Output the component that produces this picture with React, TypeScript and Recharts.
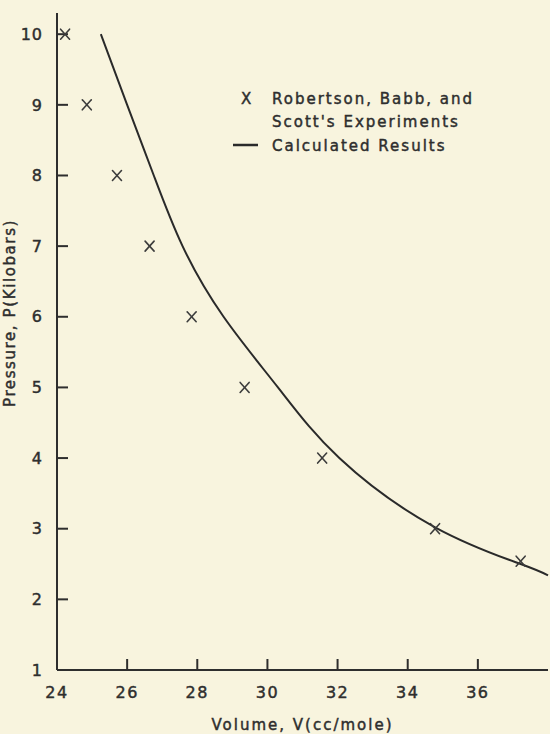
import React from 'react';
import { ComposedChart, Line, Scatter, XAxis, YAxis, Label } from 'recharts';

// Calculated results (solid curve)
const curveVolume = [25.25, 26.0, 26.76, 27.58, 28.75, 30.3, 32.05, 34.78, 37.22, 38.0];
const curvePressure = [10.0, 9.0, 8.0, 7.0, 6.0, 5.0, 4.0, 3.02, 2.5, 2.34];

// Robertson, Babb, and Scott's experiments (X markers)
const expVolume = [24.23, 24.85, 25.71, 26.64, 27.84, 29.35, 31.56, 34.78, 37.22];
const expPressure = [10, 9, 8, 7, 6, 5, 4, 3, 2.54];

const xTicks = [24, 26, 28, 30, 32, 34, 36];
const yTicks = [1, 2, 3, 4, 5, 6, 7, 8, 9, 10];

const legendLine1 = 'Robertson, Babb, and';
const legendLine2 = "Scott's Experiments";
const legendLine3 = 'Calculated Results';
const xTitle = 'Volume, V(cc/mole)';
const yTitle = 'Pressure, P(Kilobars)';

const curveData = curveVolume.map((v, i) => ({ v, p: curvePressure[i] }));
const expData = expVolume.map((v, i) => ({ v, p: expPressure[i] }));

const FONT = '"DejaVu Sans", sans-serif';
const INK = '#2e2e2e';
const BG = '#f8f4de';

const XMark = (props: any) => {
  const { cx, cy } = props;
  if (cx == null || cy == null) return null;
  return (
    <g stroke="#3c3c3c" strokeWidth={1.6} strokeLinecap="round">
      <line x1={cx - 4.5} y1={cy - 5} x2={cx + 4.5} y2={cy + 5} />
      <line x1={cx + 4.5} y1={cy - 5} x2={cx - 4.5} y2={cy + 5} />
    </g>
  );
};

const textStyle = {
  fontFamily: FONT,
  fontSize: 15,
  letterSpacing: 2,
  fill: INK,
  stroke: INK,
  strokeWidth: 0.45,
} as const;

const tickText = {
  fontFamily: FONT,
  fontSize: 16,
  fill: INK,
  stroke: INK,
  strokeWidth: 0.45,
} as const;

const YTick = (props: any) => {
  const { x, y, payload } = props;
  return (
    <text x={x} y={y} dy="0.355em" textAnchor="end" style={{ ...tickText, letterSpacing: 1 }}>
      {payload.value}
    </text>
  );
};

const XTick = (props: any) => {
  const { x, y, payload } = props;
  return (
    <text x={x} y={y} dy="0.71em" textAnchor="middle" style={{ ...tickText, letterSpacing: 1.5 }}>
      {payload.value}
    </text>
  );
};

export default function App() {
  return (
    <div style={{ position: 'absolute', left: 0, top: 0, width: 550, height: 734, background: BG }}>
      <svg
        width={550}
        height={734}
        style={{ position: 'absolute', left: 0, top: 0, pointerEvents: 'none' }}
      >
        <text x={241} y={104} style={{ ...textStyle }}>X</text>
        <text x={272} y={104} style={{ ...textStyle }}>{legendLine1}</text>
        <text x={272} y={127} style={{ ...textStyle }}>{legendLine2}</text>
        <line x1={233} y1={145} x2={258} y2={145} stroke="#2a2a2a" strokeWidth={2.5} />
        <text x={272} y={151} style={{ ...textStyle }}>{legendLine3}</text>
      </svg>
      <div style={{ position: 'absolute', left: 0, top: 0 }}>
        <ComposedChart width={550} height={734} margin={{ top: 13, right: 2, bottom: 0, left: 0 }}>
          <XAxis
            dataKey="v"
            type="number"
            domain={[24, 38]}
            ticks={xTicks}
            height={64}
            axisLine={{ stroke: INK, strokeWidth: 2 }}
            tickLine={{ stroke: INK, strokeWidth: 2 }}
            tickSize={-11}
            tickMargin={28}
            tick={<XTick />}
          >
            <Label value={xTitle} position="insideBottom" offset={4} style={{ ...textStyle }} />
          </XAxis>
          <YAxis
            dataKey="p"
            type="number"
            domain={[1, 10.3]}
            ticks={yTicks}
            width={57}
            axisLine={{ stroke: INK, strokeWidth: 2 }}
            tickLine={{ stroke: INK, strokeWidth: 2 }}
            tickSize={-11}
            tickMargin={25}
            tick={<YTick />}
          >
            <Label
              value={yTitle}
              angle={-90}
              position={{ x: 15, y: 300 }}
              textAnchor="middle"
              style={{ ...textStyle, letterSpacing: 1.6 }}
            />
          </YAxis>
          <Line
            data={curveData}
            dataKey="p"
            type="natural"
            stroke="#2a2a2a"
            strokeWidth={2}
            dot={false}
            activeDot={false}
            isAnimationActive={false}
          />
          <Scatter data={expData} dataKey="p" shape={XMark} isAnimationActive={false} />
        </ComposedChart>
      </div>
    </div>
  );
}
